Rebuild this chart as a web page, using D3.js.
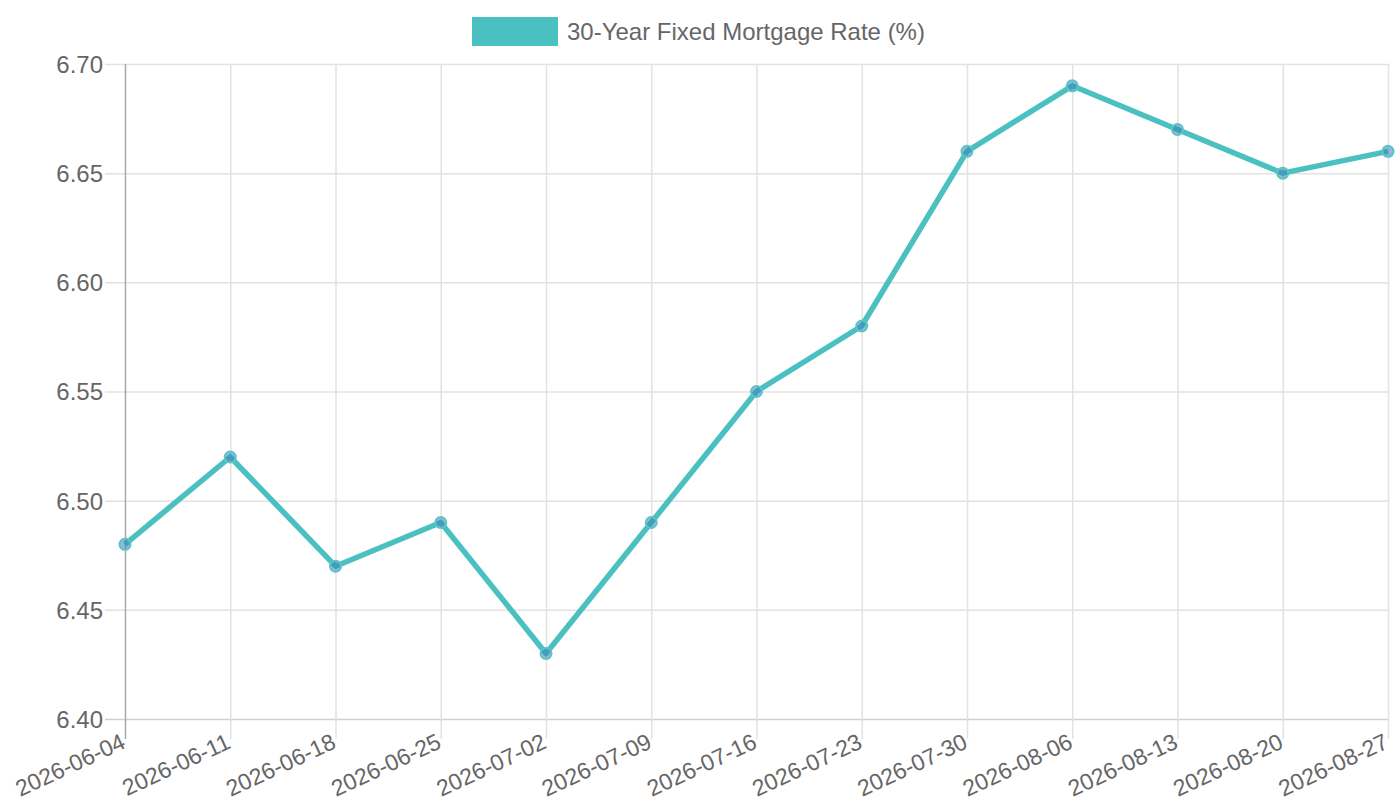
<!DOCTYPE html>
<html>
<head>
<meta charset="utf-8">
<script src="https://cdn.jsdelivr.net/npm/d3@7"></script>
<style>
  body { margin: 0; background: #fff; }
  svg text { font-family: "Liberation Sans", Arial, Helvetica, sans-serif; fill: #666; }
</style>
</head>
<body>
<div id="chart"></div>
<script>
// Weekly dates and values
var dates = ["2026-06-04", "2026-06-11", "2026-06-18", "2026-06-25", "2026-07-02", "2026-07-09",
  "2026-07-16", "2026-07-23", "2026-07-30", "2026-08-06", "2026-08-13", "2026-08-20", "2026-08-27"];
var rates = [6.48, 6.52, 6.47, 6.49, 6.43, 6.49, 6.55, 6.58, 6.66, 6.69, 6.67, 6.65, 6.66];
var yTicks = [6.40, 6.45, 6.50, 6.55, 6.60, 6.65, 6.70];
var seriesName = "30-Year Fixed Mortgage Rate (%)";

var margin = { top: 64, right: 12, bottom: 81, left: 125 };
var width = 1400 - margin.left - margin.right;
var height = 800 - margin.top - margin.bottom;

var lineColor = "#4bc0c0";

var svg = d3.select("#chart")
  .append("svg")
  .attr("width", 1400)
  .attr("height", 800);

// Legend
var legend = svg.append("g");
legend.append("rect")
  .attr("x", 472).attr("y", 17)
  .attr("width", 86).attr("height", 29)
  .attr("fill", lineColor);
legend.append("text")
  .attr("x", 567).attr("y", 40)
  .style("font-size", "24px")
  .text(seriesName);

var g = svg.append("g")
  .attr("transform", "translate(" + margin.left + "," + margin.top + ")");

// Scales
var xScale = d3.scalePoint()
  .domain(dates)
  .range([0, width]);

var yScale = d3.scaleLinear()
  .domain([6.40, 6.70])
  .range([height, 0]);

// Horizontal grid + y ticks
var yAxis = g.append("g")
  .call(d3.axisLeft(yScale)
    .tickValues(yTicks)
    .tickSize(-width)
    .tickPadding(22)
    .tickFormat(d3.format(".2f")));
yAxis.select(".domain").remove();
yAxis.selectAll(".tick line")
  .attr("x1", -20)
  .attr("stroke", "#e2e2e2")
  .attr("stroke-width", 1.5);
yAxis.selectAll(".tick text")
  .style("font-size", "24px")
  .attr("dy", "0.35em");
yAxis.selectAll(".tick")
  .filter(function (d) { return d === 6.40; })
  .select("line")
  .attr("stroke", "#cfcfcf");

// Vertical grid + x ticks
var xAxis = g.append("g")
  .attr("transform", "translate(0," + height + ")")
  .call(d3.axisBottom(xScale).tickSize(-height).tickSizeOuter(0));
xAxis.select(".domain").remove();
xAxis.selectAll(".tick line")
  .attr("y1", 20)
  .attr("stroke", "#e2e2e2")
  .attr("stroke-width", 1.5);
xAxis.selectAll(".tick")
  .filter(function (d, i) { return i === 0; })
  .select("line")
  .attr("stroke", "#a8a8a8");
xAxis.selectAll(".tick text")
  .style("font-size", "23px")
  .attr("text-anchor", "end")
  .attr("y", 0)
  .attr("dy", "0.35em")
  .attr("transform", "translate(-2,21) rotate(-25)");

// Line
var line = d3.line()
  .x(function (d, i) { return xScale(dates[i]); })
  .y(function (d) { return yScale(d); });

g.append("path")
  .datum(rates)
  .attr("d", line)
  .attr("fill", "none")
  .attr("stroke", lineColor)
  .attr("stroke-width", 5.5)
  .attr("stroke-linejoin", "round");

// Points
g.selectAll(".pt")
  .data(rates)
  .enter()
  .append("circle")
  .attr("class", "pt")
  .attr("cx", function (d, i) { return xScale(dates[i]); })
  .attr("cy", function (d) { return yScale(d); })
  .attr("r", 5.5)
  .attr("fill", "rgba(60,130,190,0.55)")
  .attr("stroke", "#5cc4c4")
  .attr("stroke-width", 2);
</script>
</body>
</html>
